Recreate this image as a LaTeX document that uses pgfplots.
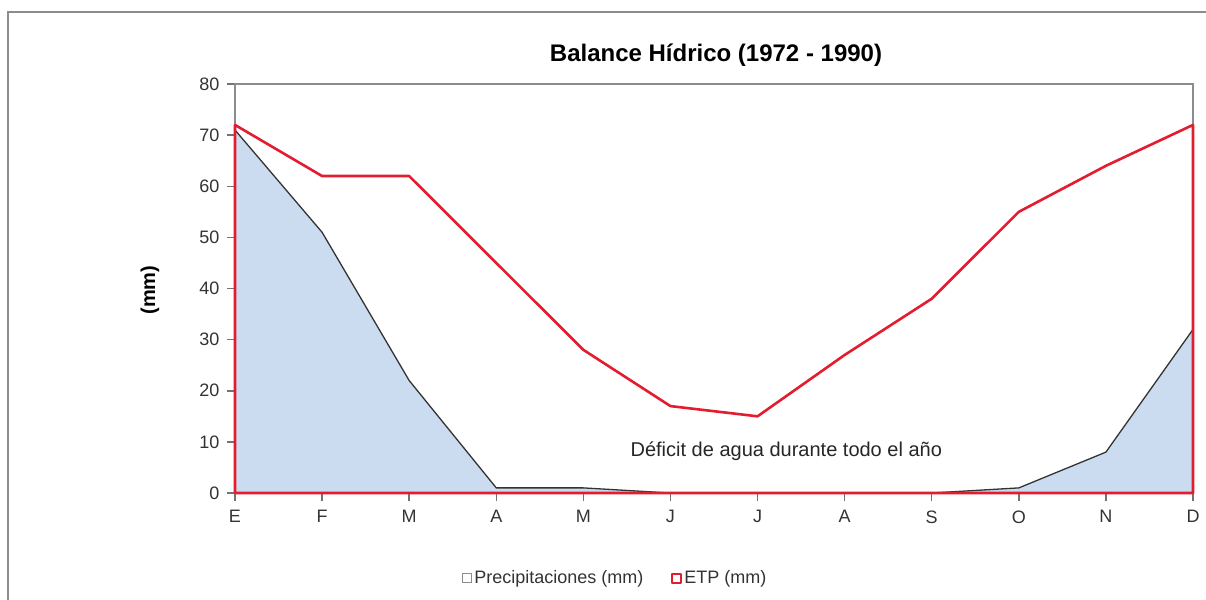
\documentclass[border=0pt]{standalone}
\usepackage{pgfplots}
\pgfplotsset{compat=1.18}
\usepackage{fontspec}
\setmainfont{Liberation Sans}
\definecolor{etpred}{RGB}{228,28,48}
\definecolor{pblue}{RGB}{204,220,240}
\definecolor{axgray}{RGB}{140,140,140}
\begin{document}
\begin{tikzpicture}
\path[use as bounding box] (0,0) rectangle (1206bp,-600bp);
\draw[axgray, line width=2bp] (8bp,-600bp) -- (8bp,-12bp) -- (1206bp,-12bp);
\begin{axis}[
  at={(235bp,-493bp)}, anchor=south west,
  width=958bp, height=409bp, scale only axis,
  xmin=0, xmax=11, ymin=0, ymax=80,
  xtick={0,...,11},
  xticklabels={E,F,M,A,M,J,J,A,S,O,N,D},
  ytick={0,10,...,80},
  xtick pos=bottom, ytick pos=left,
  axis line style={axgray, line width=1.5bp},
  every tick/.style={draw=black!55, line width=1.5bp},
  tick align=outside, tickwidth=8bp,
  ticklabel style={font=\fontsize{18bp}{20bp}\selectfont, text=black!80},
  /pgf/number format/assume math mode=true,
  xticklabel style={yshift=-6bp},
  yticklabel style={xshift=-4bp},
  clip=false,
  legend columns=2,
  legend style={at={(0.397,-0.208)}, anchor=center, draw=none, fill=none,
    font=\fontsize{18bp}{20bp}\selectfont, text=black!80,
    /tikz/every even column/.append style={column sep=26bp}},
  legend cell align=left,
]
\addplot[fill=pblue, draw=none, forget plot] coordinates {
 (0,71) (1,51) (2,22) (3,1) (4,1) (5,0) (6,0) (7,0) (8,0) (9,1) (10,8) (11,32) (11,0) (0,0)} -- cycle;
\addplot[black!80, line width=1.3bp,
  legend image code/.code={\draw[axgray, line width=1.2bp, fill=white] (0bp,-4.5bp) rectangle (9bp,4.5bp);}]
 coordinates {
 (0,71) (1,51) (2,22) (3,1) (4,1) (5,0) (6,0) (7,0) (8,0) (9,1) (10,8) (11,32)};
\addlegendentry{Precipitaciones (mm)}
\addplot[etpred, line width=2.6bp, line join=round,
  legend image code/.code={\draw[etpred, line width=2bp, fill=white] (0bp,-4.5bp) rectangle (9bp,4.5bp);}]
 coordinates {
 (0,72) (1,62) (2,62) (3,45) (4,28) (5,17) (6,15) (7,27) (8,38) (9,55) (10,64) (11,72) (11,0) (0,0)} -- cycle;
\addlegendentry{ETP (mm)}
\node[font=\fontsize{20bp}{22bp}\selectfont, text=black!85] at (axis cs:6.33,8.2) {Déficit de agua durante todo el año};
\end{axis}
\node[font=\bfseries\fontsize{24bp}{26bp}\selectfont] at (716bp,-55bp) {Balance Hídrico (1972 - 1990)};
\node[rotate=90, font=\bfseries\fontsize{20bp}{22bp}\selectfont] at (150bp,-290bp) {(mm)};
\end{tikzpicture}
\end{document}
